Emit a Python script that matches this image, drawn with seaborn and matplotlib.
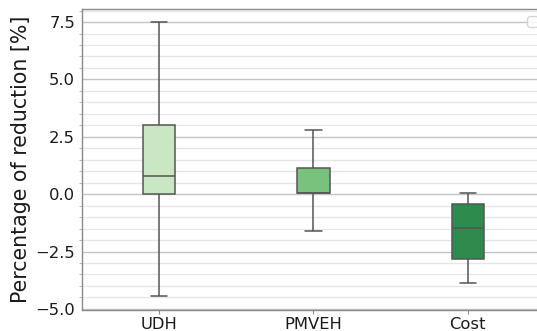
import numpy as np
import pandas as pd
import seaborn as sns
import matplotlib
matplotlib.use("Agg")
import matplotlib.pyplot as plt
from matplotlib.ticker import MultipleLocator

categories = ["UDH", "PMVEH", "Cost"]
whisker_low = [-4.43, -1.62, -3.87]
q1 = [0.0, 0.04, -2.82]
median = [0.8, 0.05, -1.49]
q3 = [3.0, 1.14, -0.43]
whisker_high = [7.5, 2.8, 0.05]
colors = ["#c9e7c3", "#79c27d", "#2e8a4d"]

rows = []
for i, c in enumerate(categories):
    for v in (whisker_low[i], q1[i], median[i], q3[i], whisker_high[i]):
        rows.append({"metric": c, "value": v})
df = pd.DataFrame(rows)

sns.set_style("whitegrid")
plt.rcParams["font.family"] = ["DejaVu Sans"]

fig = plt.figure(figsize=(5.37, 3.31), dpi=100)
ax = fig.add_axes([0.1527, 0.0634, 0.862, 0.9094])

sns.boxplot(data=df, x="metric", y="value", hue="metric", palette=colors,
            order=categories, hue_order=categories, legend=False,
            width=0.21, whis=np.inf, linewidth=1.1, linecolor="#555555",
            saturation=1, ax=ax)

ax.set_ylim(-5.05, 8.07)
ax.set_xlim(-0.5, 2.5)
ax.yaxis.set_major_locator(MultipleLocator(2.5))
ax.yaxis.set_minor_locator(MultipleLocator(0.5))
ax.grid(True, which="major", axis="y", color="#c4c4c4", linewidth=1.0)
ax.grid(True, which="minor", axis="y", color="#e6e6e6", linewidth=1.0)
ax.grid(False, axis="x")
ax.set_axisbelow(True)
for s in ax.spines.values():
    s.set_color("#8a8a8a")
    s.set_linewidth(1.0)
ax.tick_params(axis="both", which="major", length=3, color="#8a8a8a",
               labelsize=11.8, labelcolor="#1a1a1a", pad=2)
ax.tick_params(axis="y", which="minor", length=2, color="#b0b0b0", left=True)
ax.tick_params(axis="x", bottom=True)
ax.set_xlabel("")
ax.set_ylabel("Percentage of reduction [%]", fontsize=14.8, color="#1a1a1a", labelpad=3)
ax.legend(handles=[], loc="upper right", frameon=True)

fig.savefig("out.png", dpi=100)
